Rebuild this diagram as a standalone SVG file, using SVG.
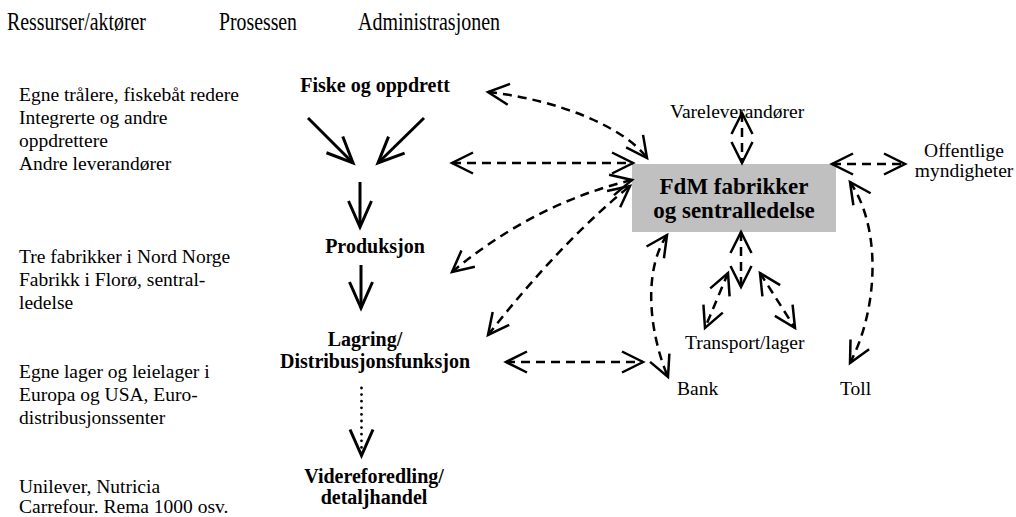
<svg xmlns="http://www.w3.org/2000/svg" width="1016" height="517" viewBox="0 0 1016 517">
<style>
text{font-family:"Liberation Serif","Times New Roman",serif;fill:#000}
.hdr{font-size:25px}
.lt{font-size:19.5px}
.b{font-size:20px;font-weight:bold;text-anchor:middle}
.r{font-size:19.5px}
.bx{font-size:23px;font-weight:bold;text-anchor:middle}
.sol{fill:none;stroke:#000;stroke-width:3}
.dsh{fill:none;stroke:#000;stroke-width:2.5;stroke-dasharray:9 6}
.dot{fill:none;stroke:#000;stroke-width:2.8;stroke-linecap:round;stroke-dasharray:0 6.6}
</style>
<defs>
<marker id="ad" markerUnits="userSpaceOnUse" orient="auto-start-reverse" refX="0" refY="0" markerWidth="40" markerHeight="40" overflow="visible">
<path d="M-21,-10.5 L0,0 L-21,10.5" fill="none" stroke="#000" stroke-width="2.5" stroke-dasharray="none"/>
</marker>
<marker id="as" markerUnits="userSpaceOnUse" orient="auto" refX="0" refY="0" markerWidth="40" markerHeight="40" overflow="visible">
<path d="M-26,-11.5 L0,0 L-26,11.5" fill="none" stroke="#000" stroke-width="3" stroke-dasharray="none" stroke-linecap="butt"/>
</marker>
</defs>
<rect width="1016" height="517" fill="#fff"/>

<g id="headers">
<text class="hdr" x="7" y="30" textLength="139" lengthAdjust="spacingAndGlyphs">Ressurser/aktører</text>
<text class="hdr" x="219" y="30" textLength="78" lengthAdjust="spacingAndGlyphs">Prosessen</text>
<text class="hdr" x="358" y="30" textLength="142" lengthAdjust="spacingAndGlyphs">Administrasjonen</text>
</g>

<g id="resources">
<text class="lt" x="19" y="101">Egne trålere, fiskebåt redere</text>
<text class="lt" x="19" y="124">Integrerte og andre</text>
<text class="lt" x="19" y="147">oppdrettere</text>
<text class="lt" x="19" y="170">Andre leverandører</text>
<text class="lt" x="19" y="263">Tre fabrikker i Nord Norge</text>
<text class="lt" x="19" y="286">Fabrikk i Florø, sentral-</text>
<text class="lt" x="19" y="309">ledelse</text>
<text class="lt" x="19" y="378">Egne lager og leielager i</text>
<text class="lt" x="19" y="401">Europa og USA, Euro-</text>
<text class="lt" x="19" y="424">distribusjonssenter</text>
<text class="lt" x="19" y="493">Unilever, Nutricia</text>
<text class="lt" x="19" y="513">Carrefour. Rema 1000 osv.</text>
</g>

<g id="node-fiske"><text class="b" x="375" y="92">Fiske og oppdrett</text></g>
<g id="node-produksjon"><text class="b" x="375" y="253">Produksjon</text></g>
<g id="node-lagring">
<text class="b" x="365" y="346">Lagring/</text>
<text class="b" x="375" y="368">Distribusjonsfunksjon</text>
</g>
<g id="node-videreforedling">
<text class="b" x="374" y="483">Videreforedling/</text>
<text class="b" x="374" y="504">detaljhandel</text>
</g>

<g id="node-fdm">
<rect x="632" y="164" width="204" height="68" fill="#c0c0c0"/>
<text class="bx" x="734" y="194">FdM fabrikker</text>
<text class="bx" x="734" y="218">og sentralledelse</text>
</g>
<g id="node-vare"><text class="r" x="670" y="118">Vareleverandører</text></g>
<g id="node-offentlige">
<text class="r" x="964" y="157" text-anchor="middle">Offentlige</text>
<text class="r" x="964" y="177" text-anchor="middle">myndigheter</text>
</g>
<g id="node-transport"><text class="r" x="685" y="349">Transport/lager</text></g>
<g id="node-bank"><text class="r" x="677" y="395">Bank</text></g>
<g id="node-toll"><text class="r" x="840" y="395">Toll</text></g>

<g id="connectors">
<path class="sol" d="M308,118 L353,163" marker-end="url(#as)"/>
<path class="sol" d="M424,118 L378,163" marker-end="url(#as)"/>
<path class="sol" d="M360,182 L360,227" marker-end="url(#as)"/>
<path class="sol" d="M361,265 L361,308" marker-end="url(#as)"/>
<path class="dot" d="M361.5,388 L361.5,455.5" marker-end="url(#as)"/>
<path class="dsh" d="M488,92 C560,100 625,128 647,158" marker-start="url(#ad)" marker-end="url(#ad)"/>
<path class="dsh" d="M452,163 L633,163" marker-start="url(#ad)" marker-end="url(#ad)"/>
<path class="dsh" d="M452,272 C505,228 565,196 632,180" marker-start="url(#ad)" marker-end="url(#ad)"/>
<path class="dsh" d="M488,335 C535,275 585,222 630,186" marker-start="url(#ad)" marker-end="url(#ad)"/>
<path class="dsh" d="M506,362 L643,362" marker-start="url(#ad)" marker-end="url(#ad)"/>
<path class="dsh" d="M667,235 C642,272 650,335 668,377" marker-start="url(#ad)" marker-end="url(#ad)"/>
<path class="dsh" d="M742,113 L742,163" marker-start="url(#ad)" marker-end="url(#ad)"/>
<path class="dsh" d="M832,164 L905,164" marker-start="url(#ad)" marker-end="url(#ad)"/>
<path class="dsh" d="M850,182 C882,228 878,310 850,363" marker-start="url(#ad)" marker-end="url(#ad)"/>
<path class="dsh" d="M741,232 L741,287" marker-start="url(#ad)" marker-end="url(#ad)"/>
<path class="dsh" d="M728,273 L705,328" marker-start="url(#ad)" marker-end="url(#ad)"/>
<path class="dsh" d="M760,273 L795,328" marker-start="url(#ad)" marker-end="url(#ad)"/>
</g>
</svg>
